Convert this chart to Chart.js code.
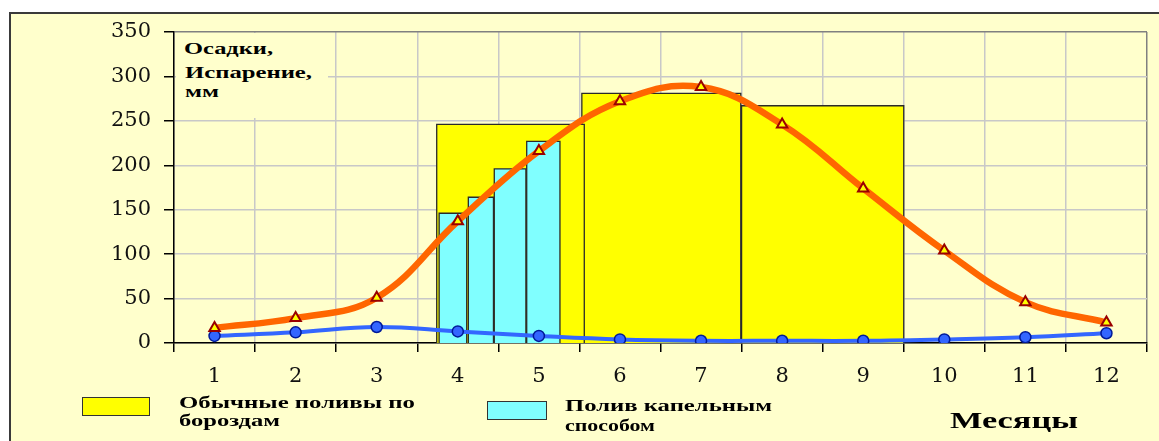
<!DOCTYPE html>
<html lang="ru">
<head>
<meta charset="UTF-8">
<title>Осадки, испарение и поливы</title>
<script src="https://cdn.jsdelivr.net/npm/chart.js"></script>
<style>
  body { margin: 0; background: #fff; width: 1159px; height: 441px; overflow: hidden; position: relative; }
  .frame {
    position: absolute; left: 9px; top: 12px; width: 1160px; height: 440px;
    background: #ffffcc; border-left: 2px solid #3a3a3a; border-top: 2px solid #3a3a3a; box-sizing: border-box;
  }
  .chart-box { position: absolute; left: 0; top: 0; width: 1159px; height: 441px; }
  .cover { position: absolute; left: 176px; top: 33px; width: 152px; height: 85px; background: #ffffcc; }
  .txt {
    position: absolute; font-family: 'Liberation Serif', 'Times New Roman', serif; font-weight: bold;
    font-size: 17px; line-height: 1; color: #000; white-space: nowrap; transform-origin: 0 0;
  }
  .big { font-size: 23px; }
  .swatch { position: absolute; box-sizing: border-box; border: 1.5px solid #333; }
</style>
</head>
<body>
  <div class="frame"></div>
  <div class="chart-box"><canvas id="grafik"></canvas></div>

  <div class="cover"></div>
  <span class="txt" data-w="89" style="left:184px; top:40px;">Осадки,</span>
  <span class="txt" data-w="127" style="left:185px; top:64px;">Испарение,</span>
  <span class="txt" data-w="34" style="left:185px; top:83px;">мм</span>

  <div class="swatch" style="left:82px; top:397px; width:68px; height:19px; background:#ffff00;"></div>
  <span class="txt" data-w="236" style="left:179px; top:394px;">Обычные поливы по</span>
  <span class="txt" data-w="101" style="left:179px; top:412px;">бороздам</span>

  <div class="swatch" style="left:487px; top:401px; width:60px; height:19px; background:#80ffff;"></div>
  <span class="txt" data-w="207" style="left:565px; top:397px;">Полив капельным</span>
  <span class="txt" data-w="90" style="left:565px; top:417px;">способом</span>

  <span class="txt big" data-w="128" style="left:950px; top:409px;">Месяцы</span>

  <script>
    // месяцы по оси X
    const bulan = ['1', '2', '3', '4', '5', '6', '7', '8', '9', '10', '11', '12'];
    // испарение, мм (оранжевая линия)
    const ispareniye = [17, 28, 51, 137, 216, 272, 288, 246, 174, 104, 46, 23];
    // осадки, мм (синяя линия)
    const osadki = [8, 12, 18, 13, 8, 4, 2.5, 2.5, 2.5, 4, 6.5, 11];

    // обычные поливы по бороздам: начало, конец (в месяцах), норма, мм
    const borozdyOt = [3.74, 5.53, 7.5];
    const borozdyDo = [5.56, 7.49, 9.5];
    const borozdyNorma = [246, 281, 267];

    // полив капельным способом
    const kapelOt = [3.77, 4.13, 4.45, 4.85];
    const kapelDo = [4.11, 4.44, 4.84, 5.26];
    const kapelNorma = [146, 164, 196, 227];

    // подгонка ширины подписей (картинка растянута по горизонтали)
    document.querySelectorAll('.txt').forEach(el => {
      const w = +el.dataset.w;
      el.style.transform = 'scaleX(' + (w / el.getBoundingClientRect().width) + ')';
    });

    function kotak(ot, doo, h, warna, urutan) {
      return {
        type: 'line', xAxisID: 'x2', order: urutan,
        data: [{ x: ot, y: 0 }, { x: ot, y: h }, { x: doo, y: h }, { x: doo, y: 0 }],
        fill: 'origin', backgroundColor: warna, borderColor: '#2a2a2a', borderWidth: 1.3,
        pointRadius: 0, tension: 0
      };
    }

    const datasets = [];
    borozdyNorma.forEach((h, i) => datasets.push(kotak(borozdyOt[i], borozdyDo[i], h, '#ffff00', 4)));
    kapelNorma.forEach((h, i) => datasets.push(kotak(kapelOt[i], kapelDo[i], h, '#80ffff', 3)));

    datasets.push({
      label: 'Осадки', data: osadki, xAxisID: 'x', order: 2,
      borderColor: '#3366ff', borderWidth: 4, tension: 0.4, fill: false,
      pointStyle: 'circle', pointRadius: 5.5, pointBackgroundColor: '#3366ff',
      pointBorderColor: '#001a99', pointBorderWidth: 1.5
    });
    datasets.push({
      label: 'Испарение', data: ispareniye, xAxisID: 'x', order: 1,
      borderColor: '#ff6600', borderWidth: 6.5, tension: 0.4, fill: false,
      pointStyle: 'triangle', pointRadius: 6, pointBackgroundColor: '#ffff00',
      pointBorderColor: '#990000', pointBorderWidth: 2
    });

    const hurufTick = { family: 'DejaVu Serif', size: 21 };

    new Chart(document.getElementById('grafik'), {
      type: 'line',
      data: { labels: bulan, datasets },
      options: {
        responsive: true, maintainAspectRatio: false, animation: false,
        layout: { padding: { top: 32, right: 12, left: 0, bottom: 0 } },
        plugins: { legend: { display: false }, tooltip: { enabled: false } },
        scales: {
          x: {
            type: 'category', offset: true,
            grid: {
              offset: true, lineWidth: 1.5, tickLength: 9, tickColor: '#000',
              color: ctx => ctx.type === 'tick' ? '#c8c8c8' : '#808080'
            },
            border: { color: '#000', width: 1.5 },
            ticks: { font: hurufTick, color: '#111', padding: 12, maxRotation: 0 },
            afterFit: s => { s.height = 98; }
          },
          x2: { type: 'linear', display: false, min: 0.5, max: 12.5, offset: false },
          y: {
            min: 0, max: 350,
            grid: {
              lineWidth: 1.5, tickLength: 10, tickColor: '#000',
              color: ctx => ctx.tick && ctx.tick.value === 350 ? '#808080' : '#c8c8c8'
            },
            border: { color: '#000', width: 1.5 },
            ticks: { stepSize: 50, font: hurufTick, color: '#111', padding: 13 },
            afterFit: s => { s.width = 174; }
          }
        }
      }
    });
  </script>
</body>
</html>
